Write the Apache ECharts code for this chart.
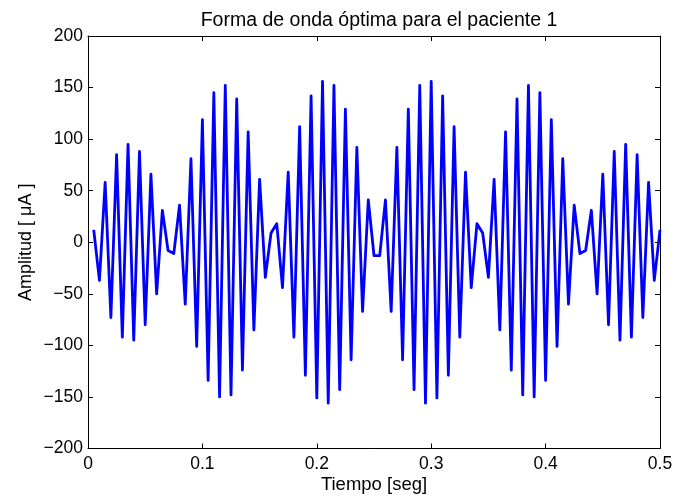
<!DOCTYPE html>
<html>
<head>
<meta charset="utf-8">
<script src="https://cdn.jsdelivr.net/npm/echarts@6/dist/echarts.min.js"></script>
<style>
  html, body { margin: 0; padding: 0; background: #fff; }
  #chart { width: 689px; height: 496px; }
</style>
</head>
<body>
<div id="chart"></div>
<script>
// ---- data ----
const titleText = 'Forma de onda óptima para el paciente 1';
const xAxisName = 'Tiempo [seg]';
const yAxisName = 'Amplitud [ μA ]';

const xTicks = [0, 0.1, 0.2, 0.3, 0.4, 0.5];
const yTicks = [-200, -150, -100, -50, 0, 50, 100, 150, 200];

const times = [
  0.005, 0.010, 0.015, 0.020, 0.025, 0.030, 0.035, 0.040, 0.045, 0.050,
  0.055, 0.060, 0.065, 0.070, 0.075, 0.080, 0.085, 0.090, 0.095, 0.100,
  0.105, 0.110, 0.115, 0.120, 0.125, 0.130, 0.135, 0.140, 0.145, 0.150,
  0.155, 0.160, 0.165, 0.170, 0.175, 0.180, 0.185, 0.190, 0.195, 0.200,
  0.205, 0.210, 0.215, 0.220, 0.225, 0.230, 0.235, 0.240, 0.245, 0.250,
  0.255, 0.260, 0.265, 0.270, 0.275, 0.280, 0.285, 0.290, 0.295, 0.300,
  0.305, 0.310, 0.315, 0.320, 0.325, 0.330, 0.335, 0.340, 0.345, 0.350,
  0.355, 0.360, 0.365, 0.370, 0.375, 0.380, 0.385, 0.390, 0.395, 0.400,
  0.405, 0.410, 0.415, 0.420, 0.425, 0.430, 0.435, 0.440, 0.445, 0.450,
  0.455, 0.460, 0.465, 0.470, 0.475, 0.480, 0.485, 0.490, 0.495, 0.500
];

const amplitude = [
   12,  -37,   58,  -73,   85,  -92,   95,  -95,   88,  -80,
   66,  -50,   31,   -8,  -11,   36,  -60,   81, -101,  119,
 -134,  145, -150,  152, -148,  139, -124,  107,  -85,   61,
  -34,    9,   18,  -44,   68,  -92,  112, -129,  142, -151,
  156, -156,  152, -143,  129, -114,   92,  -67,   41,  -13,
  -13,   41,  -67,   92, -114,  129, -143,  152, -156,  156,
 -151,  142, -129,  112,  -92,   68,  -44,   18,    9,  -34,
   61,  -85,  107, -124,  139, -148,  152, -150,  145, -134,
  119, -101,   81,  -60,   36,  -11,   -8,   31,  -50,   66,
  -80,   88,  -95,   95,  -92,   85,  -73,   58,  -37,   12
];

// ---- chart ----
const FONT = 'Liberation Sans, Arial, Helvetica, sans-serif';
const seriesData = times.map((t, i) => [t, amplitude[i]]);

const xMin = xTicks[0], xMax = xTicks[xTicks.length - 1], xStep = xTicks[1] - xTicks[0];
const yMin = yTicks[0], yMax = yTicks[yTicks.length - 1], yStep = yTicks[1] - yTicks[0];

const axisLineStyle = { color: '#000', width: 1 };
const fmtNum = v => String(+v.toFixed(6)).replace('-', '\u2212');

const chart = echarts.init(document.getElementById('chart'), null, { renderer: 'canvas' });
chart.setOption({
  animation: false,
  backgroundColor: '#fff',
  title: {
    text: titleText,
    left: 374,
    top: 6,
    textAlign: 'center',
    textStyle: { fontFamily: FONT, fontSize: 19.5, fontWeight: 'normal', color: '#000' }
  },
  grid: { left: 88, right: 29, top: 36, bottom: 47.5, containLabel: false, outerBoundsMode: 'none' },
  xAxis: [
    {
      type: 'value', position: 'bottom', min: xMin, max: xMax, interval: xStep,
      name: xAxisName, nameLocation: 'middle', nameGap: 26.5, nameMoveOverlap: false,
      nameTextStyle: { fontFamily: FONT, fontSize: 18.5, color: '#000' },
      axisLine: { show: true, onZero: false, lineStyle: axisLineStyle },
      axisTick: { show: true, inside: true, length: 5, lineStyle: axisLineStyle },
      axisLabel: { show: true, margin: 7, fontFamily: FONT, fontSize: 17.5, color: '#000', formatter: fmtNum },
      splitLine: { show: false }
    },
    {
      type: 'value', position: 'top', min: xMin, max: xMax, interval: xStep,
      axisLine: { show: true, onZero: false, lineStyle: axisLineStyle },
      axisTick: { show: true, inside: true, length: 5, lineStyle: axisLineStyle },
      axisLabel: { show: false },
      splitLine: { show: false }
    }
  ],
  yAxis: [
    {
      type: 'value', position: 'left', min: yMin, max: yMax, interval: yStep,
      name: yAxisName, nameLocation: 'middle', nameGap: 53, nameMoveOverlap: false,
      nameTextStyle: { fontFamily: FONT, fontSize: 18, color: '#000' },
      axisLine: { show: true, onZero: false, lineStyle: axisLineStyle },
      axisTick: { show: true, inside: true, length: 5, lineStyle: axisLineStyle },
      axisLabel: { show: true, margin: 5, fontFamily: FONT, fontSize: 17.5, color: '#000', formatter: fmtNum },
      splitLine: { show: false }
    },
    {
      type: 'value', position: 'right', min: yMin, max: yMax, interval: yStep,
      axisLine: { show: true, onZero: false, lineStyle: axisLineStyle },
      axisTick: { show: true, inside: true, length: 5, lineStyle: axisLineStyle },
      axisLabel: { show: false },
      splitLine: { show: false }
    }
  ],
  series: [
    {
      type: 'line',
      xAxisIndex: 0,
      yAxisIndex: 0,
      data: seriesData,
      showSymbol: false,
      symbol: 'none',
      lineStyle: { color: '#0000ff', width: 2.8, join: 'round', cap: 'butt' },
      clip: true
    }
  ]
});
</script>
</body>
</html>
